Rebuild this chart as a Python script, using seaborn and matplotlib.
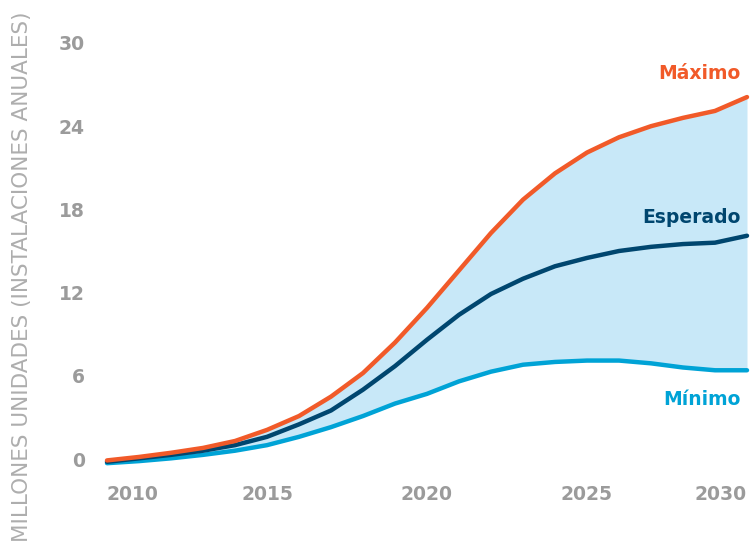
#plot.py
# Proyeccion de instalaciones anuales: escenarios minimo, esperado y maximo

import pandas as pd
import seaborn as sns
import matplotlib
matplotlib.use('Agg')
import matplotlib.pyplot as plt

#data
years = list(range(2010, 2031))
maximo = [-0.1, 0.15, 0.45, 0.8, 1.3, 2.1, 3.1, 4.5, 6.2, 8.4, 10.9,
          13.6, 16.3, 18.7, 20.6, 22.1, 23.2, 24.0, 24.6, 25.1, 26.1]
esperado = [-0.2, 0.05, 0.3, 0.6, 1.0, 1.6, 2.5, 3.5, 5.0, 6.7, 8.6,
            10.4, 11.9, 13.0, 13.9, 14.5, 15.0, 15.3, 15.5, 15.6, 16.1]
minimo = [-0.3, -0.15, 0.05, 0.3, 0.6, 1.0, 1.6, 2.3, 3.1, 4.0, 4.7,
          5.6, 6.3, 6.8, 7.0, 7.1, 7.1, 6.9, 6.6, 6.4, 6.4]
y_ticks = [0, 6, 12, 18, 24, 30]
x_ticks = [2010, 2015, 2020, 2025, 2030]
y_label = 'MILLONES UNIDADES (INSTALACIONES ANUALES)'

df = pd.DataFrame({'year': years, 'max': maximo, 'exp': esperado, 'min': minimo})

#colors
orange = '#f15a29'
navy = '#00466f'
cyan = '#00a3d6'
band = '#c8e8f8'
gray = '#9b9b9b'

sns.set_style('white')
plt.rcParams['font.family'] = ['DejaVu Sans']

fig = plt.figure(figsize=(7.52, 5.42), dpi=100)
ax = fig.add_axes([107 / 752, 0.1275, 640 / 752, 0.8188])

#shaded band between min and max
ax.fill_between(df['year'], df['min'], df['max'], color=band, lw=0)

sns.lineplot(data=df, x='year', y='min', color=cyan, lw=3.2, ax=ax,
             solid_capstyle='round', solid_joinstyle='round', clip_on=False)
sns.lineplot(data=df, x='year', y='exp', color=navy, lw=3.2, ax=ax,
             solid_capstyle='round', solid_joinstyle='round', clip_on=False)
sns.lineplot(data=df, x='year', y='max', color=orange, lw=3.2, ax=ax,
             solid_capstyle='round', solid_joinstyle='round', clip_on=False)

ax.set_xlim(2010, 2030)
ax.set_ylim(-1, 31)
sns.despine(ax=ax, left=True, bottom=True)

ax.set_yticks(y_ticks)
ax.set_yticklabels([str(t) for t in y_ticks], fontsize=13.5,
                   fontweight='bold', color=gray)
ax.set_xticks(x_ticks)
xl = ax.set_xticklabels([str(t) for t in x_ticks], fontsize=13.5,
                        fontweight='bold', color=gray)
xl[0].set_ha('left')
xl[-1].set_ha('right')
ax.tick_params(axis='y', length=0, pad=16)
ax.tick_params(axis='x', length=0, pad=9)
ax.set_xlabel('')
ax.set_ylabel('')

#series labels
ax.text(2029.8, 27.8, 'Máximo', color=orange, fontsize=13.5,
        fontweight='bold', ha='right', va='center')
ax.text(2029.8, 17.4, 'Esperado', color=navy, fontsize=13.5,
        fontweight='bold', ha='right', va='center')
ax.text(2029.8, 4.3, 'Mínimo', color=cyan, fontsize=13.5,
        fontweight='bold', ha='right', va='center')

fig.text(22 / 752, 1 - 12 / 542, y_label, rotation=90, ha='center',
         va='top', fontsize=15.5, color='#aeaeae')

fig.savefig('out.png', dpi=100)
